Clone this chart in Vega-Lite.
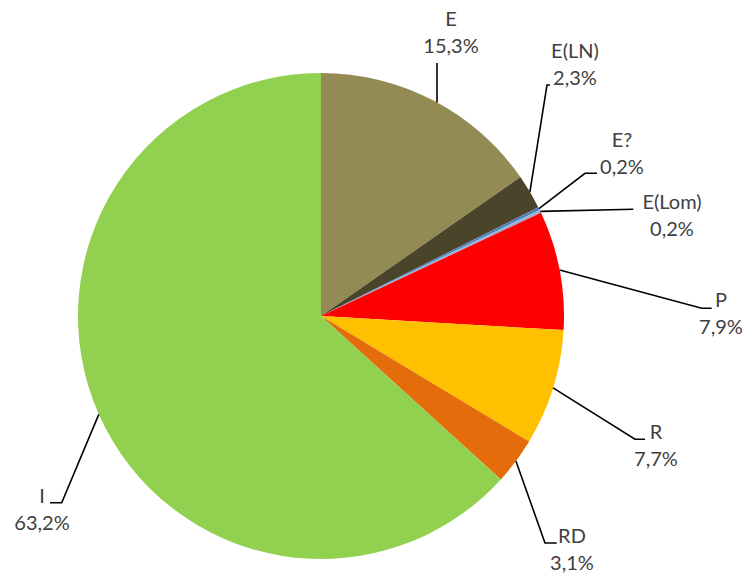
{
  "$schema": "https://vega.github.io/schema/vega-lite/v6.json",
  "width": 747,
  "height": 577,
  "autosize": {"type": "none"},
  "padding": 0,
  "background": "white",
  "config": {"view": {"stroke": null}},
  "datasets": {
    "slices": [
      {"name": "E", "idx": 1, "value": 15.3},
      {"name": "E(LN)", "idx": 2, "value": 2.3},
      {"name": "E?", "idx": 3, "value": 0.2},
      {"name": "E(Lom)", "idx": 4, "value": 0.2},
      {"name": "P", "idx": 5, "value": 7.9},
      {"name": "R", "idx": 6, "value": 7.7},
      {"name": "RD", "idx": 7, "value": 3.1},
      {"name": "I", "idx": 8, "value": 63.2}
    ],
    "leaders": [
      {"name": "E", "seq": 1, "x": 0.4774, "y": 0.8782},
      {"name": "E", "seq": 2, "x": 0.4774, "y": 1.0412},
      {"name": "E(LN)", "seq": 1, "x": 0.8597, "y": 0.5111},
      {"name": "E(LN)", "seq": 2, "x": 0.93, "y": 0.9506},
      {"name": "E(LN)", "seq": 3, "x": 0.9424, "y": 0.9506},
      {"name": "E?", "seq": 1, "x": 0.8971, "y": 0.4416},
      {"name": "E?", "seq": 2, "x": 1.0864, "y": 0.5872},
      {"name": "E?", "seq": 3, "x": 1.1358, "y": 0.5872},
      {"name": "E(Lom)", "seq": 1, "x": 0.9025, "y": 0.4305},
      {"name": "E(Lom)", "seq": 2, "x": 1.2852, "y": 0.4391},
      {"name": "P", "seq": 1, "x": 0.9819, "y": 0.1893},
      {"name": "P", "seq": 2, "x": 1.5667, "y": 0.0317},
      {"name": "P", "seq": 3, "x": 1.6078, "y": 0.0317},
      {"name": "R", "seq": 1, "x": 0.9551, "y": -0.2959},
      {"name": "R", "seq": 2, "x": 1.2922, "y": -0.5074},
      {"name": "R", "seq": 3, "x": 1.3333, "y": -0.5074},
      {"name": "RD", "seq": 1, "x": 0.8021, "y": -0.5971},
      {"name": "RD", "seq": 2, "x": 0.9218, "y": -0.9342},
      {"name": "RD", "seq": 3, "x": 0.97, "y": -0.9342},
      {"name": "I", "seq": 1, "x": -0.9144, "y": -0.4049},
      {"name": "I", "seq": 2, "x": -1.0671, "y": -0.7683},
      {"name": "I", "seq": 3, "x": -1.1152, "y": -0.7683}
    ],
    "labels": [
      {"text": "E\n15,3%", "x": 0.535, "y": 1.2181},
      {"text": "E(LN)\n2,3%", "x": 1.0453, "y": 1.0864},
      {"text": "E?\n0,2%", "x": 1.2387, "y": 0.7202},
      {"text": "E(Lom)\n0,2%", "x": 1.4444, "y": 0.465},
      {"text": "P\n7,9%", "x": 1.6461, "y": 0.0617},
      {"text": "R\n7,7%", "x": 1.3786, "y": -0.4815},
      {"text": "RD\n3,1%", "x": 1.0329, "y": -0.9095},
      {"text": "I\n63,2%", "x": -1.1481, "y": -0.7449}
    ]
  },
  "layer": [
    {
      "data": {"name": "slices"},
      "mark": {"type": "arc", "outerRadius": 243},
      "encoding": {
        "x": {"datum": 0, "type": "quantitative", "scale": {"domain": [-1.321, 1.7531], "nice": false, "zero": false}, "axis": null},
        "y": {"datum": 0, "type": "quantitative", "scale": {"domain": [-1.0741, 1.3004], "nice": false, "zero": false}, "axis": null},
        "theta": {"field": "value", "type": "quantitative", "stack": true},
        "order": {"field": "idx", "type": "quantitative"},
        "color": {
          "field": "name",
          "type": "nominal",
          "scale": {
            "domain": ["E", "E(LN)", "E?", "E(Lom)", "P", "R", "RD", "I"],
            "range": ["#948A54", "#4A452A", "#4F81BD", "#95B3D7", "#FF0000", "#FFC000", "#E46C0A", "#92D050"]
          },
          "legend": null
        }
      }
    },
    {
      "data": {"name": "leaders"},
      "mark": {"type": "line", "color": "#000000", "strokeWidth": 1.6},
      "encoding": {
        "x": {"field": "x", "type": "quantitative", "scale": {"domain": [-1.321, 1.7531], "nice": false, "zero": false}, "axis": null},
        "y": {"field": "y", "type": "quantitative", "scale": {"domain": [-1.0741, 1.3004], "nice": false, "zero": false}, "axis": null},
        "detail": {"field": "name"},
        "order": {"field": "seq", "type": "quantitative"}
      }
    },
    {
      "data": {"name": "labels"},
      "mark": {"type": "text", "font": "Lato", "fontSize": 20, "lineHeight": 27, "lineBreak": "\n", "align": "center", "baseline": "middle", "color": "#404040"},
      "encoding": {
        "x": {"field": "x", "type": "quantitative", "scale": {"domain": [-1.321, 1.7531], "nice": false, "zero": false}, "axis": null},
        "y": {"field": "y", "type": "quantitative", "scale": {"domain": [-1.0741, 1.3004], "nice": false, "zero": false}, "axis": null},
        "text": {"field": "text"}
      }
    }
  ]
}
